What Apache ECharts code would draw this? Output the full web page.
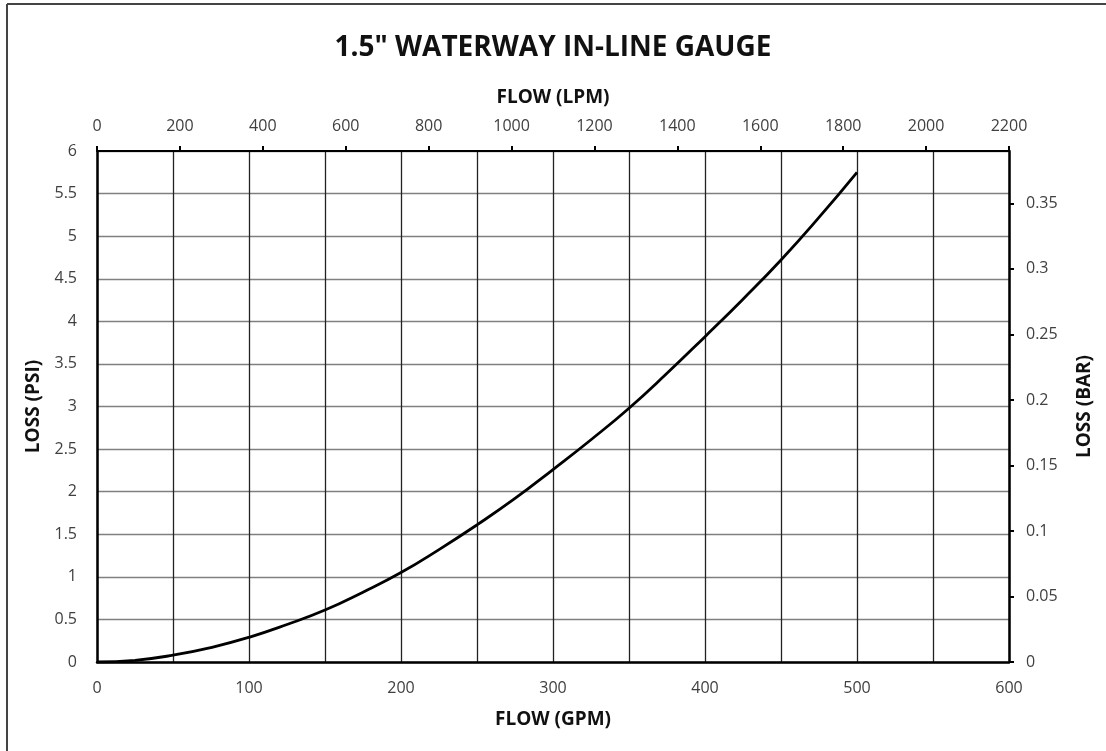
<!DOCTYPE html>
<html lang="en">
<head>
    <meta charset="UTF-8">
    <title>1.5" Waterway In-Line Gauge</title>
    <style>
        html, body { margin: 0; padding: 0; background: #fff; }
        #chart { width: 1106px; height: 751px; }
    </style>
</head>
<body>
    <div id="chart"></div>
    <script src="https://cdn.jsdelivr.net/npm/echarts@6/dist/echarts.min.js"></script>
    <script>
        // flow in GPM, pressure loss in PSI
        var flowGpm = [0, 25, 50, 75, 100, 125, 150, 175, 200, 225, 250, 275, 300, 325, 350, 375, 400, 425, 450, 475, 500];
        var lossPsi = [0, 0.02, 0.08, 0.17, 0.29, 0.44, 0.61, 0.82, 1.05, 1.32, 1.61, 1.92, 2.26, 2.61, 2.98, 3.39, 3.82, 4.26, 4.72, 5.22, 5.75];

        // axis ranges: min, max, step
        var gpmRange = [0, 600, 50];
        var lpmRange = [0, 2200, 200];
        var psiRange = [0, 6, 0.5];
        var barRange = [0, 0.39, 0.05];

        var font = '"Open Sans", "DejaVu Sans", sans-serif';
        var labelColor = '#404040';
        var nameStyle = { fontFamily: font, fontSize: 19, fontWeight: 'bold', color: '#111' };

        var points = [];
        for (var i = 0; i < flowGpm.length; i++) {
            points.push([flowGpm[i], lossPsi[i]]);
        }

        function plain(v) { return String(v); }

        var chart = echarts.init(document.getElementById('chart'));
        var option = {
            animation: false,
            title: {
                text: '1.5" WATERWAY IN-LINE GAUGE',
                left: 'center',
                top: 29,
                textStyle: { fontFamily: font, fontSize: 28, fontWeight: 'bold', color: '#111' }
            },
            grid: { left: 97, right: 97, top: 151, bottom: 89 },
            xAxis: [{
                type: 'value',
                position: 'bottom',
                min: gpmRange[0], max: gpmRange[1], interval: gpmRange[2],
                name: 'FLOW (GPM)',
                nameLocation: 'middle',
                nameGap: 48,
                nameTextStyle: nameStyle,
                axisLine: { onZero: false, lineStyle: { color: '#000', width: 2.5 } },
                axisTick: { show: false },
                axisLabel: {
                    margin: 18,
                    fontFamily: font, fontSize: 16, color: labelColor,
                    formatter: function (v) { return v % 100 === 0 ? String(v) : ''; }
                },
                splitLine: { show: true, lineStyle: { color: '#222', width: 1.3 } }
            }, {
                type: 'value',
                position: 'top',
                min: lpmRange[0], max: lpmRange[1], interval: lpmRange[2],
                name: 'FLOW (LPM)',
                nameLocation: 'middle',
                nameGap: 44,
                nameTextStyle: nameStyle,
                axisLine: { onZero: false, lineStyle: { color: '#000', width: 2 } },
                axisTick: { show: true, inside: false, length: 5, lineStyle: { color: '#000', width: 2 } },
                axisLabel: { margin: 17, fontFamily: font, fontSize: 16, color: labelColor, formatter: plain },
                splitLine: { show: false }
            }],
            yAxis: [{
                type: 'value',
                position: 'left',
                min: psiRange[0], max: psiRange[1], interval: psiRange[2],
                name: 'LOSS (PSI)',
                nameLocation: 'middle',
                nameRotate: 90,
                nameGap: 54,
                nameTextStyle: nameStyle,
                axisLine: { onZero: false, lineStyle: { color: '#000', width: 2.5 } },
                axisTick: { show: false },
                axisLabel: { margin: 20, fontFamily: font, fontSize: 16, color: labelColor, formatter: plain },
                splitLine: { show: true, lineStyle: { color: '#808080', width: 1.3 } }
            }, {
                type: 'value',
                position: 'right',
                min: barRange[0], max: barRange[1], interval: barRange[2],
                name: 'LOSS (BAR)',
                nameLocation: 'middle',
                nameRotate: 90,
                nameGap: 66,
                nameTextStyle: nameStyle,
                axisLine: { onZero: false, lineStyle: { color: '#000', width: 2.5 } },
                axisTick: { show: true, inside: false, length: 5, lineStyle: { color: '#000', width: 2 } },
                axisLabel: { margin: 17, fontFamily: font, fontSize: 16, color: labelColor, showMaxLabel: false, formatter: plain },
                splitLine: { show: false }
            }],
            graphic: [
                { type: 'line', shape: { x1: 7, y1: 4, x2: 1106, y2: 4 }, style: { stroke: '#444', lineWidth: 2 } },
                { type: 'line', shape: { x1: 7, y1: 4, x2: 7, y2: 751 }, style: { stroke: '#444', lineWidth: 2 } }
            ],
            series: [{
                type: 'line',
                xAxisIndex: 0,
                yAxisIndex: 0,
                data: points,
                smooth: true,
                showSymbol: false,
                lineStyle: { color: '#000', width: 2.8 }
            }]
        };
        chart.setOption(option);
    </script>
</body>
</html>
